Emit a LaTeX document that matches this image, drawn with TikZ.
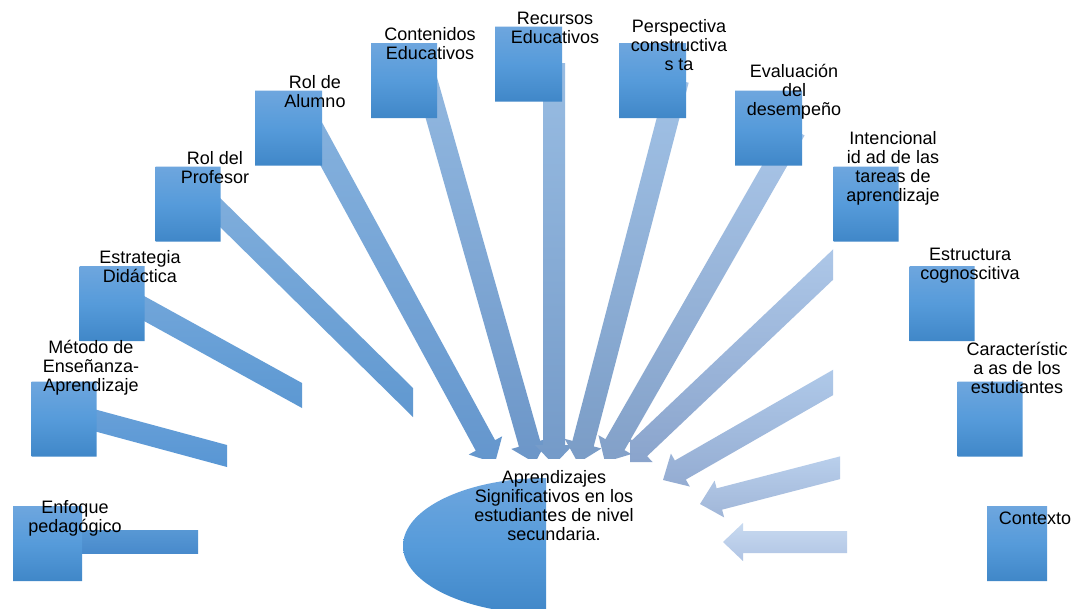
\documentclass[tikz,border=0pt]{standalone}
\usepackage{fontspec}
\setmainfont{Liberation Sans}
\usetikzlibrary{calc,shapes.misc}

\definecolor{boxt}{RGB}{110,166,222}
\definecolor{boxm}{RGB}{86,155,218}
\definecolor{boxb}{RGB}{64,135,200}
\definecolor{c1t}{RGB}{88,152,212}\definecolor{c1b}{RGB}{72,138,204}
\definecolor{c2t}{RGB}{104,160,216}\definecolor{c2b}{RGB}{88,150,212}
\definecolor{c3t}{RGB}{114,166,218}\definecolor{c3b}{RGB}{92,152,210}
\definecolor{c4t}{RGB}{128,174,220}\definecolor{c4b}{RGB}{96,152,208}
\definecolor{c5t}{RGB}{134,178,222}\definecolor{c5b}{RGB}{100,150,205}
\definecolor{c6t}{RGB}{146,184,224}\definecolor{c6b}{RGB}{108,150,200}
\definecolor{c7t}{RGB}{152,188,226}\definecolor{c7b}{RGB}{116,154,200}
\definecolor{c8t}{RGB}{162,194,230}\definecolor{c8b}{RGB}{122,156,198}
\definecolor{c9t}{RGB}{170,198,232}\definecolor{c9b}{RGB}{130,160,200}
\definecolor{c10t}{RGB}{176,202,234}\definecolor{c10b}{RGB}{138,164,204}
\definecolor{c11t}{RGB}{178,204,235}\definecolor{c11b}{RGB}{148,172,210}
\definecolor{c12t}{RGB}{188,210,238}\definecolor{c12b}{RGB}{160,182,216}
\definecolor{c13t}{RGB}{200,218,240}\definecolor{c13b}{RGB}{176,196,228}

% start, tip, top colour, bottom colour
\newcommand\fatarrow[4]{%
  \coordinate (fa-b) at ($(#2)!20pt!(#1)$);
  \shade[top color=#3,bottom color=#4]
    ($(#1)!11pt!90:(#2)$) -- ($(fa-b)!11pt!90:(#2)$) -- ($(fa-b)!19pt!90:(#2)$) -- (#2)
    -- ($(fa-b)!19pt!-90:(#2)$) -- ($(fa-b)!11pt!-90:(#2)$) -- ($(#1)!11pt!-90:(#2)$) -- cycle;
}

\begin{document}
\begin{tikzpicture}[x=1pt,y=-1pt,
  txt/.style={font=\fontsize{18}{19}\selectfont, align=center, inner sep=0pt, text=black},
  box/.style={chamfered rectangle, chamfered rectangle corners={north west,south west},
    chamfered rectangle xsep=3pt, chamfered rectangle ysep=3pt,
    minimum width=65, minimum height=75, inner sep=0pt,
    top color=boxt, bottom color=boxb, middle color=boxm, draw=none}]
\useasboundingbox (0,0) rectangle (1075,608);
\fill[white] (0,0) rectangle (1075,608);

% truncated bands on the left
\shade[top color=c1t,bottom color=c1b] (75,530) rectangle (198,553);
\shade[top color=c2t,bottom color=c2b] (90,408) -- (227,445) -- (227,467) -- (90,430) -- cycle;
\shade[top color=c3t,bottom color=c3b] (135,291) -- (302,383) -- (302,408) -- (135,316) -- cycle;
\shade[top color=c4t,bottom color=c4b] (212,190) -- (413,388) -- (413,417) -- (212,219) -- cycle;

% arrow coordinates
\coordinate (s5) at (300,105);  \coordinate (t5) at (495,463);
\coordinate (s6) at (424,72);   \coordinate (t6) at (535,463);
\coordinate (s7) at (554,63);   \coordinate (t7) at (554,465);
\coordinate (s8) at (678,80);   \coordinate (t8) at (578,463);
\coordinate (s9) at (795,130);  \coordinate (t9) at (605,462);
\coordinate (s10) at (860,239); \coordinate (t10) at (625,462);
\coordinate (s11) at (860,367); \coordinate (t11) at (663,480);
\coordinate (s12) at (870,460); \coordinate (t12) at (700,504);
\coordinate (s13) at (870,542); \coordinate (t13) at (723,542);

\begin{scope}
  \clip (0,0) rectangle (833,608);
  \fatarrow{s10}{t10}{c10t}{c10b}
\end{scope}
\fill[white] (560,442) rectangle (630,495);
\fill[white] (560,467) rectangle (655,495);
\begin{scope}
  \clip (0,0) rectangle (833,608);
  \fatarrow{s11}{t11}{c11t}{c11b}
\end{scope}
\begin{scope}
  \clip (0,0) rectangle (840,608);
  \fatarrow{s12}{t12}{c12t}{c12b}
\end{scope}
\begin{scope}
  \clip (0,0) rectangle (847,608);
  \fatarrow{s13}{t13}{c13t}{c13b}
\end{scope}
\fatarrow{s5}{t5}{c5t}{c5b}
\fatarrow{s6}{t6}{c6t}{c6b}
\fatarrow{s7}{t7}{c7t}{c7b}
\fatarrow{s8}{t8}{c8t}{c8b}
\fatarrow{s9}{t9}{c9t}{c9b}
\fill[white] (470,459) rectangle (630,495);

% boxes
\node[box, minimum width=69] (b1) at (47.5,543.5) {};
\node[box] (b2) at (64,419) {};
\node[box] (b3) at (112,303.5) {};
\node[box] (b4) at (188,204) {};
\node[box, minimum width=67] (b5) at (288.5,128) {};
\node[box, minimum width=66] (b6) at (404,80.5) {};
\node[box, minimum width=67] (b7) at (528.5,64) {};
\node[box, minimum width=67] (b8) at (652.5,80.5) {};
\node[box, minimum width=67] (b9) at (768.5,128) {};
\node[box] (b10) at (866,204) {};
\node[box] (b11) at (942,303.5) {};
\node[box] (b12) at (990,419) {};
\node[box, minimum width=60] (b13) at (1017,543.5) {};

% central half ellipse
\begin{scope}
  \clip (400,470) rectangle (546,612);
  \shade[top color=boxt, bottom color=boxb, middle color=boxm] (546,546) ellipse [x radius=143, y radius=68];
\end{scope}

% texts
\node[txt] (l1) at (75,518) {Enfoque\\pedagógico};
\node[txt] (l2) at (91,368) {Método de\\Enseñanza-\\Aprendizaje};
\node[txt] (l3) at (140,267) {Estrategia\\Didáctica};
\node[txt] (l4) at (215,168) {Rol del\\Profesor};
\node[txt] (l5) at (315,92) {Rol de\\Alumno};
\node[txt] (l6) at (430,44) {Contenidos\\Educativos};
\node[txt] (l7) at (555,28) {Recursos\\Educativos};
\node[txt] (l8) at (679,45) {Perspectiva\\constructiva\\s ta};
\node[txt] (l9) at (794,92) {Evaluación\\del\\desempeño};
\node[txt] (l10) at (893,168) {Intencional\\id ad de las\\tareas de\\aprendizaje};
\node[txt] (l11) at (970,266) {Estructura\\cognoscitiva};
\node[txt] (l12) at (1017,368) {Característic\\a as de los\\estudiantes};
\node[txt] (l13) at (1035,518) {Contexto};
\node[txt] (c) at (554,506) {Aprendizajes\\Significativos en los\\estudiantes de nivel\\secundaria.};
\end{tikzpicture}
\end{document}
